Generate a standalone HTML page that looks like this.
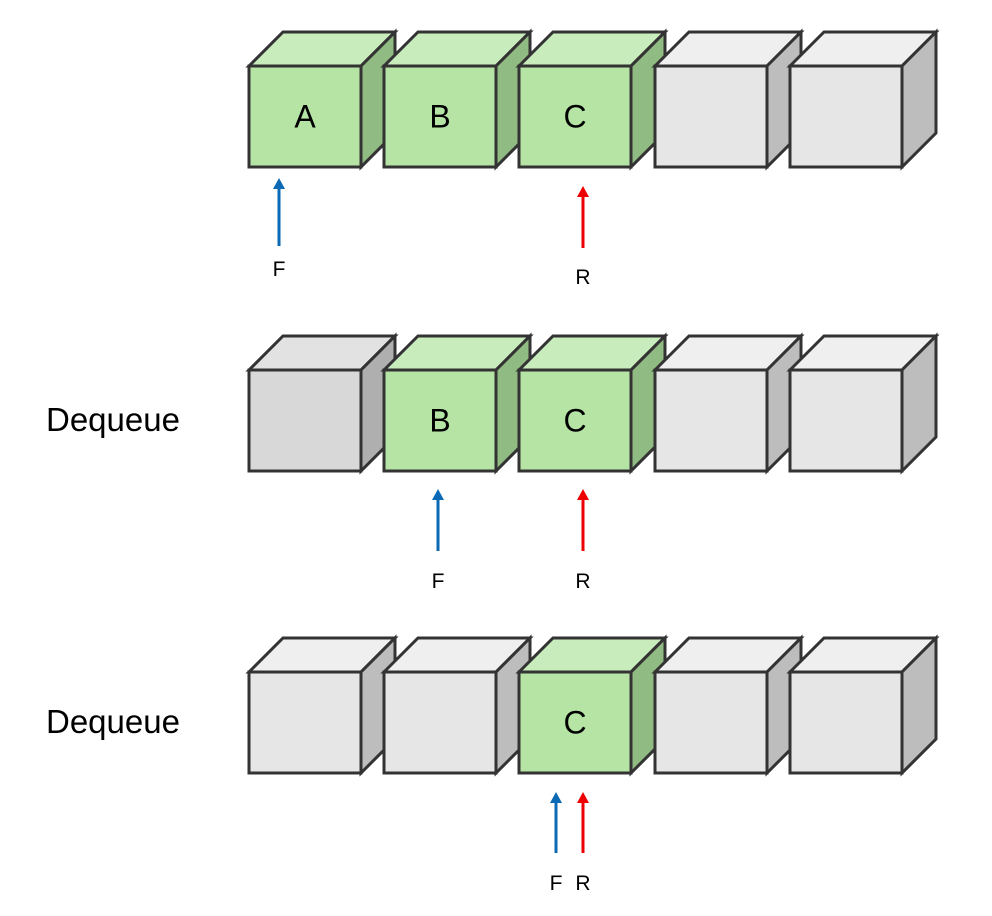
<!DOCTYPE html>
<html><head><meta charset="utf-8"><style>
html,body{margin:0;padding:0;background:#fff;}
svg{display:block;}
text{font-family:"Liberation Sans","DejaVu Sans",sans-serif;fill:#000;}
</style></head><body>
<svg width="992" height="916" viewBox="0 0 992 916" xmlns="http://www.w3.org/2000/svg">
<g id="cubes" stroke="#333" stroke-width="3" stroke-linejoin="miter"></g>
<g id="txt"></g>
<g id="arr"></g>
</svg>
<script>
var g=document.getElementById('cubes'),t=document.getElementById('txt'),a=document.getElementById('arr');
var xs=[249,384,519,655,790],ys=[66,370,672];
var G={f:'#b5e4a5',t:'#c9ecbd',s:'#90bb82'},W={f:'#e6e6e6',t:'#efefef',s:'#bdbdbd'},D={f:'#d8d8d8',t:'#e2e2e2',s:'#afafaf'};
var rows=[[G,G,G,W,W],[D,G,G,W,W],[W,W,G,W,W]];
var labels=[['A','B','C','',''],['','B','C','',''],['','','C','','']];
var h='',tx='';
for(var r=0;r<3;r++)for(var i=0;i<5;i++){
 var x=xs[i],y=ys[r],w=112,hh=101,d=34,c=rows[r][i];
 h+='<polygon points="'+x+','+y+' '+(x+d)+','+(y-d)+' '+(x+w+d)+','+(y-d)+' '+(x+w)+','+y+'" fill="'+c.t+'"/>';
 h+='<polygon points="'+(x+w)+','+y+' '+(x+w+d)+','+(y-d)+' '+(x+w+d)+','+(y+hh-d)+' '+(x+w)+','+(y+hh)+'" fill="'+c.s+'"/>';
 h+='<rect x="'+x+'" y="'+y+'" width="'+w+'" height="'+hh+'" fill="'+c.f+'"/>';
 if(labels[r][i])tx+='<text x="'+(x+w/2)+'" y="'+(y+hh/2+11)+'" font-size="32" text-anchor="middle">'+labels[r][i]+'</text>';
}
g.innerHTML=h;
tx+='<text x="46" y="431" font-size="33">Dequeue</text><text x="46" y="733" font-size="33">Dequeue</text>';
var A=[[279,246,178,'b','F',276],[583,248,186,'r','R',284],[438,551,489,'b','F',588],[583,551,489,'r','R',588],[556,853,792,'b','F',890],[583,853,792,'r','R',890]];
var ah='';
A.forEach(function(p){
 var col=p[3]=='b'?'#0a6ab5':'#ee0000';
 ah+='<line x1="'+p[0]+'" y1="'+p[1]+'" x2="'+p[0]+'" y2="'+(p[2]+8)+'" stroke="'+col+'" stroke-width="3"/>';
 ah+='<polygon points="'+(p[0]-6)+','+(p[2]+11)+' '+p[0]+','+p[2]+' '+(p[0]+6)+','+(p[2]+11)+'" fill="'+col+'"/>';
 tx+='<text x="'+p[0]+'" y="'+p[5]+'" font-size="21" text-anchor="middle">'+p[4]+'</text>';
});
a.innerHTML=ah;t.innerHTML=tx;
</script>
</body></html>
